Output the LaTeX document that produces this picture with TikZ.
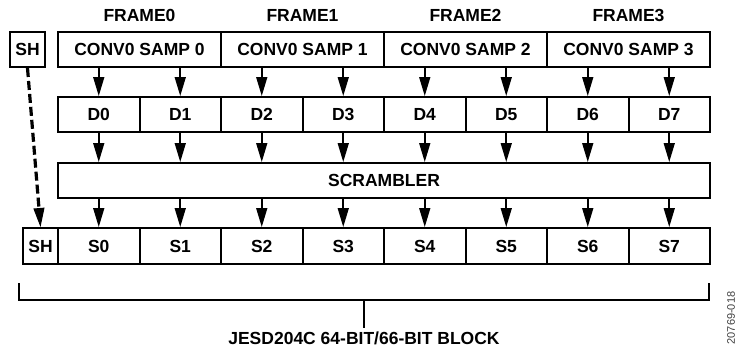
\documentclass[tikz,border=0pt]{standalone}
\usepackage{fontspec}
\setmainfont{Liberation Sans}
\usetikzlibrary{arrows.meta}
\begin{document}
\begin{tikzpicture}[x=1pt,y=-1pt,
  lbl/.style={font=\bfseries\fontsize{17.5}{17.5}\selectfont},
  cell/.style={lbl,draw,line width=2pt,rectangle,inner sep=0pt,minimum height=35pt},
  arr/.style={line width=1.6pt,-{Triangle[length=19pt,width=11pt]}},
  dasharr/.style={line width=3.2pt,dash pattern=on 9pt off 4pt,-{Triangle[length=19pt,width=11pt,line width=1pt]}},
  brk/.style={line width=2pt}]
\useasboundingbox (0,0) rectangle (737,349);
% frame labels and top row
\node[cell,minimum width=35pt] (sh1) at (27.5,49.5) {SH};
\foreach \k in {0,1,2,3}{
  \node[lbl] (f\k) at ({58+163*(\k+0.5)},15) {FRAME\k};
  \node[cell,minimum width=163pt] (c\k) at ({58+163*(\k+0.5)},49.5) {CONV0 SAMP \k};
}
% D row
\foreach \i in {0,...,7}{
  \node[cell,minimum width=81.5pt] (d\i) at ({58+81.5*(\i+0.5)},114.5) {D\i};
}
% scrambler
\node[cell,minimum width=652pt] (scr) at (384,180.5) {SCRAMBLER};
% S row
\node[cell,minimum width=35pt,minimum height=36pt] (sh2) at (40.5,246) {SH};
\foreach \i in {0,...,7}{
  \node[cell,minimum width=81.5pt,minimum height=36pt] (s\i) at ({58+81.5*(\i+0.5)},246) {S\i};
}
% arrows
\foreach \i in {0,...,7}{
  \pgfmathtruncatemacro{\k}{floor(\i/2)}
  \draw[arr] (d\i.north |- c\k.south) -- (d\i.north);
  \draw[arr] (d\i.south) -- (d\i.south |- scr.north);
  \draw[arr] (s\i.north |- scr.south) -- (s\i.north);
}
\draw[dasharr] (sh1.south) -- (sh2.north);
% bracket
\coordinate (bl) at (19,283);
\coordinate (br) at (709,283);
\coordinate (bm) at (364,300);
\node[lbl] (blk) at (364,338) {JESD204C 64-BIT/66-BIT BLOCK};
\draw[brk] (bl) -- (bl |- bm) -- (br |- bm) -- (br);
\draw[brk] (bm) -- (bm |- blk.north);
\node[rotate=90,text=black!75,font=\fontsize{11}{11}\selectfont] (code) at (731,318) {20769-018};
\end{tikzpicture}
\end{document}
